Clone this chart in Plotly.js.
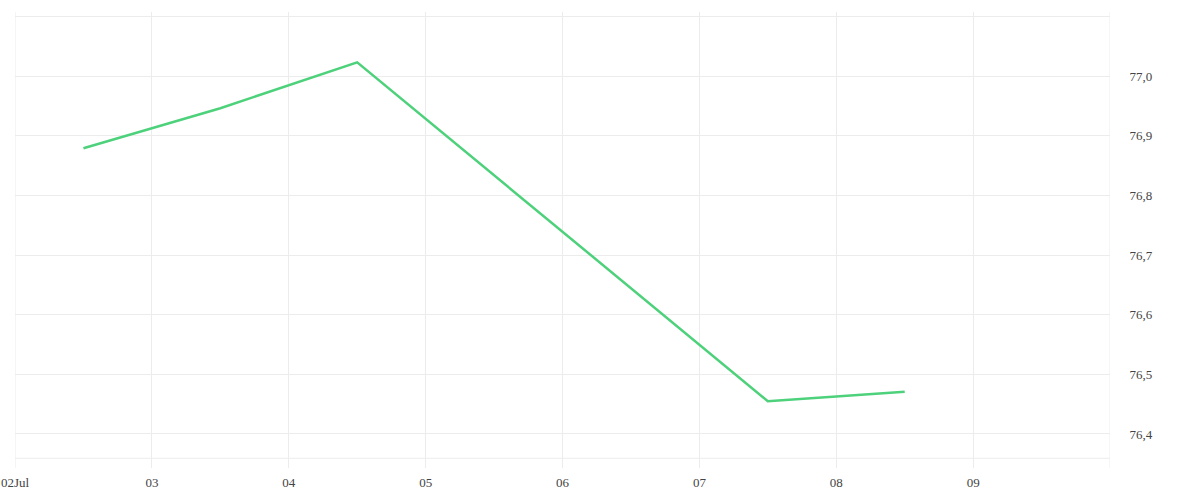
<!DOCTYPE html>
<html>
<head>
<meta charset="utf-8">
<script src="https://cdn.plot.ly/plotly-3.0.1.min.js"></script>
<style>html,body{margin:0;padding:0;background:#fff;}#chart{width:1200px;height:500px;}</style>
</head>
<body>
<div id="chart"></div>
<script>
const dates = ["2024-07-02 12:00", "2024-07-03 12:00", "2024-07-04 12:00", "2024-07-07 12:00", "2024-07-08 12:00"];
const values = [76.879, 76.946, 77.023, 76.455, 76.471];
const xTickVals = ["2024-07-02", "2024-07-03", "2024-07-04", "2024-07-05", "2024-07-06", "2024-07-07", "2024-07-08", "2024-07-09", "2024-07-10"];
const xTickText = ["02Jul", "03", "04", "05", "06", "07", "08", "09", ""];
const yTickVals = [76.4, 76.5, 76.6, 76.7, 76.8, 76.9, 77.0, 77.1];
const yTickText = ["76,4", "76,5", "76,6", "76,7", "76,8", "76,9", "77,0", ""];
const xRange = ["2024-07-02", "2024-07-10"];
const yRange = [76.343, 77.1073];
const baseY = 76.3593;

const grid = "#ececec";
const font = {family: "Liberation Serif, DejaVu Serif, serif", size: 13, color: "#444"};

const trace = {
  x: dates, y: values, type: "scatter", mode: "lines",
  line: {color: "#4dd17b", width: 2.5},
  hoverinfo: "skip"
};

const layout = {
  width: 1200, height: 500,
  margin: {l: 15, r: 90, t: 12, b: 32, pad: 0},
  paper_bgcolor: "#fff", plot_bgcolor: "#fff",
  showlegend: false,
  font: font,
  xaxis: {
    type: "date", range: xRange,
    tickmode: "array", tickvals: xTickVals, ticktext: xTickText,
    showgrid: true, gridcolor: grid, gridwidth: 1,
    zeroline: false, showline: false,
    ticks: "outside", ticklen: 2, tickcolor: "rgba(0,0,0,0)",
    tickfont: font
  },
  yaxis: {
    side: "right", range: yRange,
    tickmode: "array", tickvals: yTickVals, ticktext: yTickText,
    showgrid: true, gridcolor: grid, gridwidth: 1,
    zeroline: false, showline: false,
    ticks: "outside", ticklen: 16, tickcolor: "rgba(0,0,0,0)",
    tickfont: font
  },
  shapes: [
    {type: "line", xref: "paper", yref: "y", x0: 0, x1: 1, y0: baseY, y1: baseY,
     line: {color: grid, width: 1}, layer: "below"},
    {type: "line", xref: "x", yref: "paper", x0: xRange[0], x1: xRange[0], y0: 0, y1: 1,
     line: {color: grid, width: 1}, layer: "below"},
    {type: "line", xref: "x", yref: "paper", x0: xRange[1], x1: xRange[1], y0: 0, y1: 1,
     line: {color: grid, width: 1}, layer: "below"}
  ]
};

Plotly.newPlot("chart", [trace], layout, {staticPlot: true, displayModeBar: false});
</script>
</body>
</html>
